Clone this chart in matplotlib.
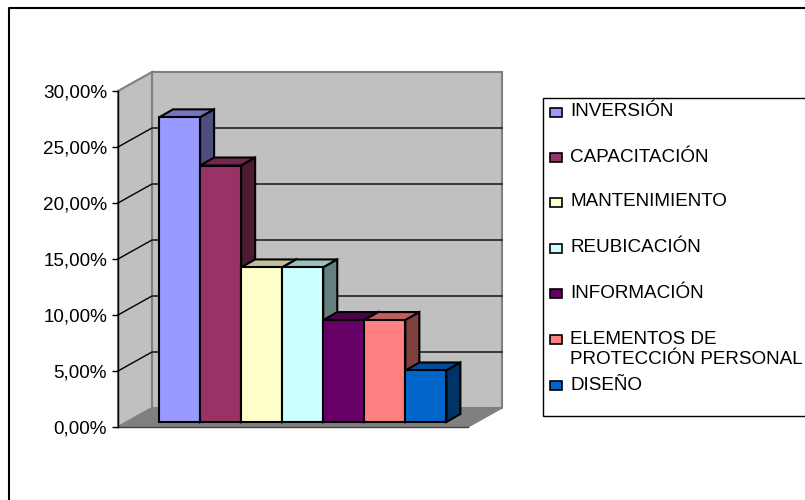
import matplotlib
matplotlib.use('Agg')
import matplotlib.pyplot as plt
from matplotlib.colors import to_rgb
from matplotlib.patches import Polygon, Rectangle

plt.rcParams['font.family'] = ['Liberation Sans', 'DejaVu Sans']

categories = ['INVERSIÓN', 'CAPACITACIÓN', 'MANTENIMIENTO', 'REUBICACIÓN',
              'INFORMACIÓN', 'ELEMENTOS DE\nPROTECCIÓN PERSONAL', 'DISEÑO']
values = [27.2, 22.9, 13.8, 13.8, 9.1, 9.1, 4.6]
colors = ['#9999FF', '#993366', '#FFFFCC', '#CCFFFF', '#660066', '#FF8080', '#0066CC']
y_ticks = [0, 5, 10, 15, 20, 25, 30]
legend_rows = [112, 157, 202, 248, 293, 339, 385]

W, H = 805, 500
# 3d look: depth offsets expressed in data units (1 x unit = one bar)
BAR_PX = 41.05
PX_Y = 11.2
wall_dx, wall_dy = 34 / BAR_PX, 19 / PX_Y
bar_dx, bar_dy = 14 / BAR_PX, 8 / PX_Y
base = 5 / PX_Y
x_max = 350 / BAR_PX - 1
FONT = 13.6


def shade(c, f):
    return tuple(v * f for v in to_rgb(c))


fig = plt.figure(figsize=(W / 100, H / 100), dpi=100, facecolor='white')
ax = fig.add_axes([118 / W, (H - 427) / H, 350 / W, 336 / H])
ax.set_xlim(-1, x_max)
ax.set_ylim(0, 30)
ax.patch.set_visible(False)

wall = dict(facecolor='#C0C0C0', edgecolor='#808080', linewidth=1.5, clip_on=False)
# back wall, side wall, floor
ax.add_patch(Polygon([(-1 + wall_dx, wall_dy), (x_max + wall_dx, wall_dy),
                      (x_max + wall_dx, 30 + wall_dy), (-1 + wall_dx, 30 + wall_dy)], **wall))
ax.add_patch(Polygon([(-1, 0), (-1 + wall_dx, wall_dy), (-1 + wall_dx, 30 + wall_dy), (-1, 30)], **wall))
ax.add_patch(Polygon([(-1, 0), (x_max, 0), (x_max + wall_dx, wall_dy), (-1 + wall_dx, wall_dy)],
                     facecolor='#808080', edgecolor='#808080', linewidth=1, clip_on=False))

# gridlines run along the side wall and across the back
for t in y_ticks[1:-1]:
    ax.plot([-1, -1 + wall_dx, x_max + wall_dx], [t, t + wall_dy, t + wall_dy],
            color='black', lw=1, clip_on=False, zorder=2)

for i, (v, c) in enumerate(zip(values, colors)):
    y1 = base + v
    edge = dict(edgecolor='black', linewidth=1.5, zorder=3, clip_on=False, joinstyle='miter')
    ax.add_patch(Polygon([(i, y1), (i + bar_dx, y1 + bar_dy), (i + 1 + bar_dx, y1 + bar_dy), (i + 1, y1)],
                         facecolor=shade(c, 0.75), **edge))
    ax.add_patch(Polygon([(i + 1, base), (i + 1 + bar_dx, base + bar_dy), (i + 1 + bar_dx, y1 + bar_dy), (i + 1, y1)],
                         facecolor=shade(c, 0.5), **edge))
    ax.add_patch(Rectangle((i, base), 1, v, facecolor=c, **edge))

ax.set_yticks(y_ticks)
ax.set_yticklabels([f'{t:.2f}'.replace('.', ',') + '%' for t in y_ticks], fontsize=FONT, color='black')
ax.tick_params(axis='y', length=4.3, width=1, pad=3.6)
ax.set_xticks([])
for s in ['top', 'right']:
    ax.spines[s].set_visible(False)
ax.spines['left'].set_linewidth(1)
ax.spines['bottom'].set_color('#404040')
ax.spines['bottom'].set_linewidth(1)
ax.spines['left'].set_zorder(4)

# overlay in pixel coords for outer frame and legend box
ov = fig.add_axes([0, 0, 1, 1])
ov.set_xlim(0, W)
ov.set_ylim(H, 0)
ov.axis('off')
ov.patch.set_visible(False)
ov.plot([9, 9, W], [H, 8, 8], color='black', lw=1.5)
ov.add_patch(Rectangle((543, 98), 270, 318, facecolor='white', edgecolor='black', linewidth=1))

for name, c, y in zip(categories, colors, legend_rows):
    ov.add_patch(Rectangle((550, y - 4.5), 12, 9, facecolor=c, edgecolor='black', linewidth=1.2))
    # one text per line so the first line stays level with its swatch
    for k, line in enumerate(name.split('\n')):
        ov.text(570, y + 4.5 + 20 * k, line, ha='left', va='baseline', fontsize=FONT, color='black')

fig.savefig('out.png', dpi=100)
plt.close(fig)
